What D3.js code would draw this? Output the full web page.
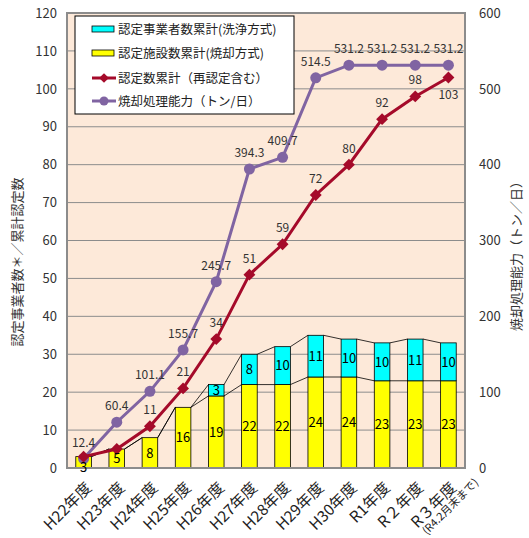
<!DOCTYPE html>
<html>
<head>
<meta charset="utf-8">
<script src="https://cdn.jsdelivr.net/npm/d3@7"></script>
<style>
  body { margin: 0; background: #fff; }
  svg text { font-family: "Noto Sans CJK JP", "Noto Sans", sans-serif; }
</style>
</head>
<body>
<div id="chart"></div>
<script>
let years = ["H22年度", "H23年度", "H24年度", "H25年度", "H26年度", "H27年度", "H28年度", "H29年度", "H30年度", "R1年度", "R２年度", "R３年度"];
let burnFacilities = [3, 5, 8, 16, 19, 22, 22, 24, 24, 23, 23, 23];
let washOperators = [0, 0, 0, 0, 3, 8, 10, 11, 10, 10, 11, 10];
let totalCerts = [3, 5, 11, 21, 34, 51, 59, 72, 80, 92, 98, 103];
let burnCapacity = [12.4, 60.4, 101.1, 155.7, 245.7, 394.3, 409.7, 514.5, 531.2, 531.2, 531.2, 531.2];
let leftTicks = [0, 10, 20, 30, 40, 50, 60, 70, 80, 90, 100, 110, 120];
let rightTicks = [0, 100, 200, 300, 400, 500, 600];
let legendNames = ["認定事業者数累計(洗浄方式)", "認定施設数累計(焼却方式)", "認定数累計（再認定含む）", "焼却処理能力（トン/日）"];

let width = 529, height = 538;
let plotL = 67, plotR = 465, plotT = 13, plotB = 468;
let red = "#a50a2a", purple = "#8064a2";

let svg = d3.select("#chart").append("svg")
    .attr("width", width)
    .attr("height", height);

let x = d3.scaleBand().domain(years).range([plotL, plotR]).paddingInner(0.53).paddingOuter(0.265);
let y = d3.scaleLinear().domain([0, 120]).range([plotB, plotT]);
let y2 = d3.scaleLinear().domain([0, 600]).range([plotB, plotT]);
let cx = function (d) { return x(d) + x.bandwidth() / 2; };

let rowsData = years.map(function (d, i) {
    return { year: d, i: i, burn: burnFacilities[i], wash: washOperators[i], total: totalCerts[i], cap: burnCapacity[i] };
});

// plot background
svg.append("rect")
    .attr("x", plotL).attr("y", plotT)
    .attr("width", plotR - plotL).attr("height", plotB - plotT)
    .attr("fill", "#fde9d9");

// gridlines
svg.append("g").selectAll("line")
    .data(leftTicks.slice(1, -1))
    .enter().append("line")
    .attr("x1", plotL).attr("x2", plotR)
    .attr("y1", function (d) { return y(d); })
    .attr("y2", function (d) { return y(d); })
    .attr("stroke", "#8c8c8c").attr("stroke-width", 1);

// axes (labels only)
let leftAxis = svg.append("g")
    .attr("transform", "translate(" + plotL + ",0)")
    .call(d3.axisLeft(y).tickValues(leftTicks).tickSize(0).tickPadding(10));
let rightAxis = svg.append("g")
    .attr("transform", "translate(" + plotR + ",0)")
    .call(d3.axisRight(y2).tickValues(rightTicks).tickSize(0).tickPadding(14));
[leftAxis, rightAxis].forEach(function (a) {
    a.select(".domain").remove();
    a.selectAll("text").attr("font-size", 13).attr("fill", "#333")
        .attr("font-family", "'Noto Sans', sans-serif");
});

// stacked bars
svg.append("g").selectAll("rect")
    .data(rowsData)
    .enter().append("rect")
    .attr("x", function (d) { return x(d.year); })
    .attr("width", x.bandwidth())
    .attr("y", function (d) { return y(d.burn); })
    .attr("height", function (d) { return y(0) - y(d.burn); })
    .attr("fill", "#ffff00").attr("stroke", "#000").attr("stroke-width", 0.8);

svg.append("g").selectAll("rect")
    .data(rowsData.filter(function (d) { return d.wash > 0; }))
    .enter().append("rect")
    .attr("x", function (d) { return x(d.year); })
    .attr("width", x.bandwidth())
    .attr("y", function (d) { return y(d.burn + d.wash); })
    .attr("height", function (d) { return y(0) - y(d.wash); })
    .attr("fill", "#00ffff").attr("stroke", "#000").attr("stroke-width", 0.8);

// series lines between bars
let sl = svg.append("g").attr("stroke", "#000").attr("stroke-width", 0.8);
for (let i = 0; i < years.length - 1; i++) {
    sl.append("line")
        .attr("x1", x(years[i]) + x.bandwidth()).attr("x2", x(years[i + 1]))
        .attr("y1", y(burnFacilities[i])).attr("y2", y(burnFacilities[i + 1]));
    sl.append("line")
        .attr("x1", x(years[i]) + x.bandwidth()).attr("x2", x(years[i + 1]))
        .attr("y1", y(burnFacilities[i] + washOperators[i]))
        .attr("y2", y(burnFacilities[i + 1] + washOperators[i + 1]));
}

// plot border
svg.append("rect")
    .attr("x", plotL).attr("y", plotT)
    .attr("width", plotR - plotL).attr("height", plotB - plotT)
    .attr("fill", "none").attr("stroke", "#8c8c8c").attr("stroke-width", 2);

// lines
let purpleLine = d3.line()
    .x(function (d) { return cx(d.year); })
    .y(function (d) { return y2(d.cap); });
let redLine = d3.line()
    .x(function (d) { return cx(d.year); })
    .y(function (d) { return y(d.total); });

svg.append("path").datum(rowsData)
    .attr("d", purpleLine).attr("fill", "none")
    .attr("stroke", purple).attr("stroke-width", 3);
svg.append("g").selectAll("circle")
    .data(rowsData)
    .enter().append("circle")
    .attr("cx", function (d) { return cx(d.year); })
    .attr("cy", function (d) { return y2(d.cap); })
    .attr("r", 5.5)
    .attr("fill", purple);

svg.append("path").datum(rowsData)
    .attr("d", redLine).attr("fill", "none")
    .attr("stroke", red).attr("stroke-width", 3);
svg.append("g").selectAll("path")
    .data(rowsData)
    .enter().append("path")
    .attr("d", d3.symbol().type(d3.symbolDiamond2).size(90))
    .attr("transform", function (d) { return "translate(" + cx(d.year) + "," + y(d.total) + ")"; })
    .attr("fill", red);

// bar labels
let labels = svg.append("g").attr("text-anchor", "middle").attr("font-size", 13)
    .attr("font-family", "'Noto Sans', sans-serif");
labels.selectAll(".yl")
    .data(rowsData)
    .enter().append("text")
    .attr("class", "yl")
    .attr("x", function (d) { return cx(d.year); })
    // very short bar: label sits just under the markers, as in the original
    .attr("y", function (d) { return d.burn < 4 ? plotB - 1 : y(d.burn / 2); })
    .attr("dy", "0.36em")
    .attr("fill", "#000")
    .text(function (d) { return d.burn; });
labels.selectAll(".cl")
    .data(rowsData.filter(function (d) { return d.wash > 0; }))
    .enter().append("text")
    .attr("class", "cl")
    .attr("x", function (d) { return cx(d.year); })
    .attr("y", function (d) { return y(d.burn + d.wash / 2); })
    .attr("dy", "0.36em")
    .attr("fill", "#000")
    .text(function (d) { return d.wash; });

// line labels
labels.selectAll(".rl")
    .data(rowsData.filter(function (d) { return d.i >= 2; }))
    .enter().append("text")
    .attr("class", "rl")
    .attr("font-size", 12)
    .attr("x", function (d) { return cx(d.year); })
    .attr("y", function (d) { return d.i === years.length - 1 ? y(d.total) + 22 : y(d.total) - 12; })
    .attr("fill", "#333")
    .text(function (d) { return d.total; });
labels.selectAll(".pl")
    .data(rowsData)
    .enter().append("text")
    .attr("class", "pl")
    .attr("font-size", 12)
    .attr("x", function (d) { return cx(d.year); })
    .attr("y", function (d) { return y2(d.cap) - 12; })
    .attr("fill", "#333")
    .text(function (d) { return d.cap.toFixed(1); });

// x labels
let xl = svg.append("g");
rowsData.forEach(function (d) {
    let g = xl.append("g")
        .attr("transform", "translate(" + (cx(d.year) + 5) + "," + (plotB + 17) + ") rotate(-45)");
    let t = g.append("text")
        .attr("text-anchor", "end")
        .attr("font-size", 15.5)
        .attr("fill", "#222")
        .attr("dy", "0.35em")
        .text(d.year);
    if (d.i === years.length - 1) {
        let w = t.node().getComputedTextLength();
        g.append("text")
            .attr("text-anchor", "start")
            .attr("font-size", 11)
            .attr("fill", "#222")
            .attr("x", -w + 2)
            .attr("y", 13)
            .attr("dy", "0.35em")
            .text("(R4.2月末まで)");
    }
});

// axis titles
svg.append("text")
    .attr("transform", "translate(22,262) rotate(-90)")
    .attr("text-anchor", "middle").attr("font-size", 13).attr("fill", "#333")
    .text("認定事業者数＊／累計認定数");
svg.append("text")
    .attr("transform", "translate(521,253) rotate(-90)")
    .attr("text-anchor", "middle").attr("font-size", 13).attr("fill", "#333")
    .text("焼却処理能力（トン／日）");

// legend
let lg = svg.append("g");
lg.append("rect")
    .attr("x", 75).attr("y", 16).attr("width", 219).attr("height", 98)
    .attr("fill", "#fff").attr("stroke", "#000").attr("stroke-width", 1);
let rows = [29, 53, 78, 101];
lg.append("rect").attr("x", 92).attr("y", rows[0] - 3).attr("width", 22).attr("height", 6)
    .attr("fill", "#00ffff").attr("stroke", "#000").attr("stroke-width", 0.8);
lg.append("rect").attr("x", 92).attr("y", rows[1] - 3).attr("width", 22).attr("height", 6)
    .attr("fill", "#ffff00").attr("stroke", "#000").attr("stroke-width", 0.8);
lg.append("line").attr("x1", 92).attr("x2", 116).attr("y1", rows[2]).attr("y2", rows[2])
    .attr("stroke", red).attr("stroke-width", 3);
lg.append("path").attr("d", d3.symbol().type(d3.symbolDiamond2).size(60))
    .attr("transform", "translate(104," + rows[2] + ")").attr("fill", red);
lg.append("line").attr("x1", 92).attr("x2", 116).attr("y1", rows[3]).attr("y2", rows[3])
    .attr("stroke", purple).attr("stroke-width", 3);
lg.append("circle").attr("cx", 104).attr("cy", rows[3]).attr("r", 4.5).attr("fill", purple);
lg.selectAll("text")
    .data(legendNames)
    .enter().append("text")
    .attr("x", 118)
    .attr("y", function (d, i) { return rows[i]; })
    .attr("dy", "0.36em")
    .attr("font-size", 12.5)
    .attr("fill", "#222")
    .text(function (d) { return d; });
</script>
</body>
</html>
